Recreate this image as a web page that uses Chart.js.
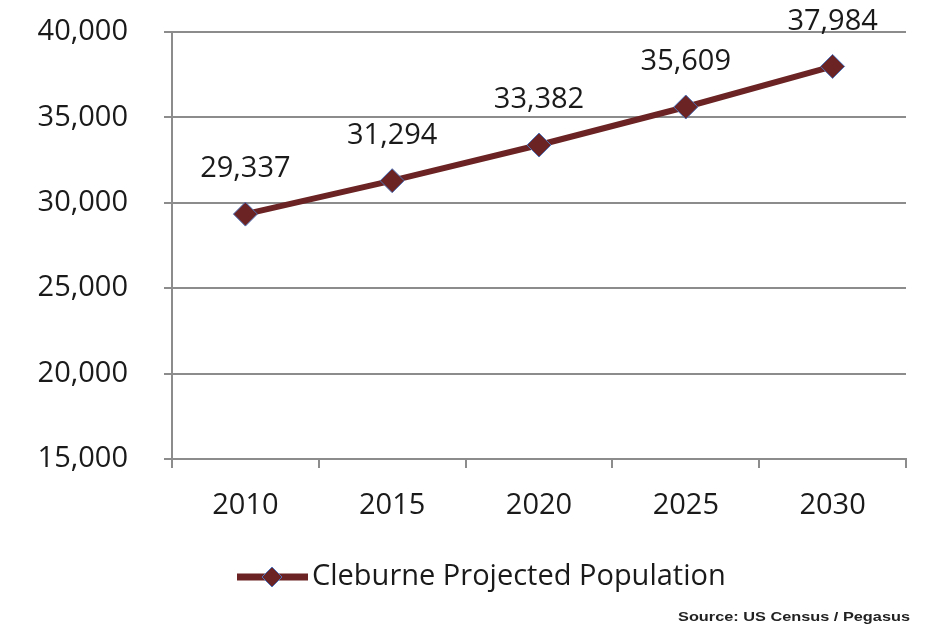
<!DOCTYPE html>
<html>
<head>
<meta charset="utf-8">
<script src="https://cdn.jsdelivr.net/npm/chart.js@4"></script>
<style>
  html, body { margin: 0; padding: 0; background: #fff; }
  #wrap { width: 937px; height: 625px; }
</style>
</head>
<body>
<div id="wrap"><canvas id="popChart" width="937" height="625"></canvas></div>
<script>
// dados
const years = ['2010', '2015', '2020', '2025', '2030'];
const population = [29337, 31294, 33382, 35609, 37984];
const seriesName = 'Cleburne Projected Population';
const sourceNote = 'Source: US Census / Pegasus';
const yMin = 15000, yMax = 40000, yStep = 5000;

const lineColor = '#6b2323';
const markerBorder = '#4f72b8';
const gridColor = '#8c8c8c';
const textColor = '#1a1a1a';
const fontFamily = '"Open Sans", "Noto Sans", sans-serif';
const fontSize = 29;

// rótulos de valor acima de cada ponto
const valueLabels = {
    id: 'valueLabels',
    afterDatasetsDraw(chart) {
        const ctx = chart.ctx;
        const meta = chart.getDatasetMeta(0);
        ctx.save();
        ctx.font = fontSize + 'px ' + fontFamily;
        ctx.fillStyle = textColor;
        ctx.textAlign = 'center';
        ctx.textBaseline = 'middle';
        meta.data.forEach((pt, i) => {
            ctx.fillText(population[i].toLocaleString('en-US'), pt.x, pt.y - 45);
        });
        ctx.restore();
    }
};

// legenda com linha + losango, e nota de fonte
const bottomLegend = {
    id: 'bottomLegend',
    afterDraw(chart) {
        const ctx = chart.ctx;
        const y = 577;
        ctx.save();
        ctx.strokeStyle = lineColor;
        ctx.lineWidth = 7;
        ctx.beginPath();
        ctx.moveTo(237, y);
        ctx.lineTo(308, y);
        ctx.stroke();

        ctx.fillStyle = lineColor;
        ctx.strokeStyle = markerBorder;
        ctx.lineWidth = 1;
        ctx.beginPath();
        ctx.moveTo(272, y - 10);
        ctx.lineTo(282, y);
        ctx.lineTo(272, y + 10);
        ctx.lineTo(262, y);
        ctx.closePath();
        ctx.fill();
        ctx.stroke();

        ctx.font = fontSize + 'px ' + fontFamily;
        ctx.fillStyle = textColor;
        ctx.textAlign = 'left';
        ctx.textBaseline = 'middle';
        ctx.fillText(seriesName, 312, y);

        // nota de fonte, esticada para a largura original
        ctx.font = 'bold 13px "Liberation Sans", Arial, sans-serif';
        const w = ctx.measureText(sourceNote).width;
        ctx.translate(678, 617);
        ctx.scale(232 / w, 1);
        ctx.fillStyle = '#222';
        ctx.fillText(sourceNote, 0, 0);
        ctx.restore();
    }
};

const ctx = document.getElementById('popChart').getContext('2d');
new Chart(ctx, {
    type: 'line',
    data: {
        labels: years,
        datasets: [{
            label: seriesName,
            data: population,
            borderColor: lineColor,
            borderWidth: 6,
            backgroundColor: lineColor,
            pointStyle: 'rectRot',
            pointRadius: 12,
            pointHoverRadius: 12,
            pointBackgroundColor: lineColor,
            pointBorderColor: markerBorder,
            pointBorderWidth: 1,
            tension: 0,
            fill: false
        }]
    },
    options: {
        responsive: false,
        animation: false,
        layout: { autoPadding: false, padding: { top: 32, right: 31, bottom: 0, left: 0 } },
        scales: {
            x: {
                type: 'category',
                offset: true,
                afterFit(scale) { scale.height = 166; },
                grid: {
                    offset: true,
                    drawOnChartArea: false,
                    drawTicks: true,
                    tickLength: 9,
                    color: gridColor,
                    lineWidth: 2
                },
                border: { color: gridColor, width: 2 },
                ticks: {
                    color: textColor,
                    padding: 20,
                    font: { size: fontSize, family: fontFamily }
                }
            },
            y: {
                min: yMin,
                max: yMax,
                // largura fixa do eixo e sem margem extra em cima
                afterFit(scale) { scale.width = 172; scale.paddingTop = 0; scale.paddingBottom = 0; },
                grid: {
                    color: gridColor,
                    lineWidth: 2,
                    tickLength: 8
                },
                border: { color: gridColor, width: 2 },
                ticks: {
                    stepSize: yStep,
                    color: textColor,
                    padding: 36,
                    font: { size: fontSize, family: fontFamily },
                    callback: v => v.toLocaleString('en-US')
                }
            }
        },
        plugins: {
            legend: { display: false },
            tooltip: { enabled: false }
        }
    },
    plugins: [valueLabels, bottomLegend]
});
</script>
</body>
</html>
